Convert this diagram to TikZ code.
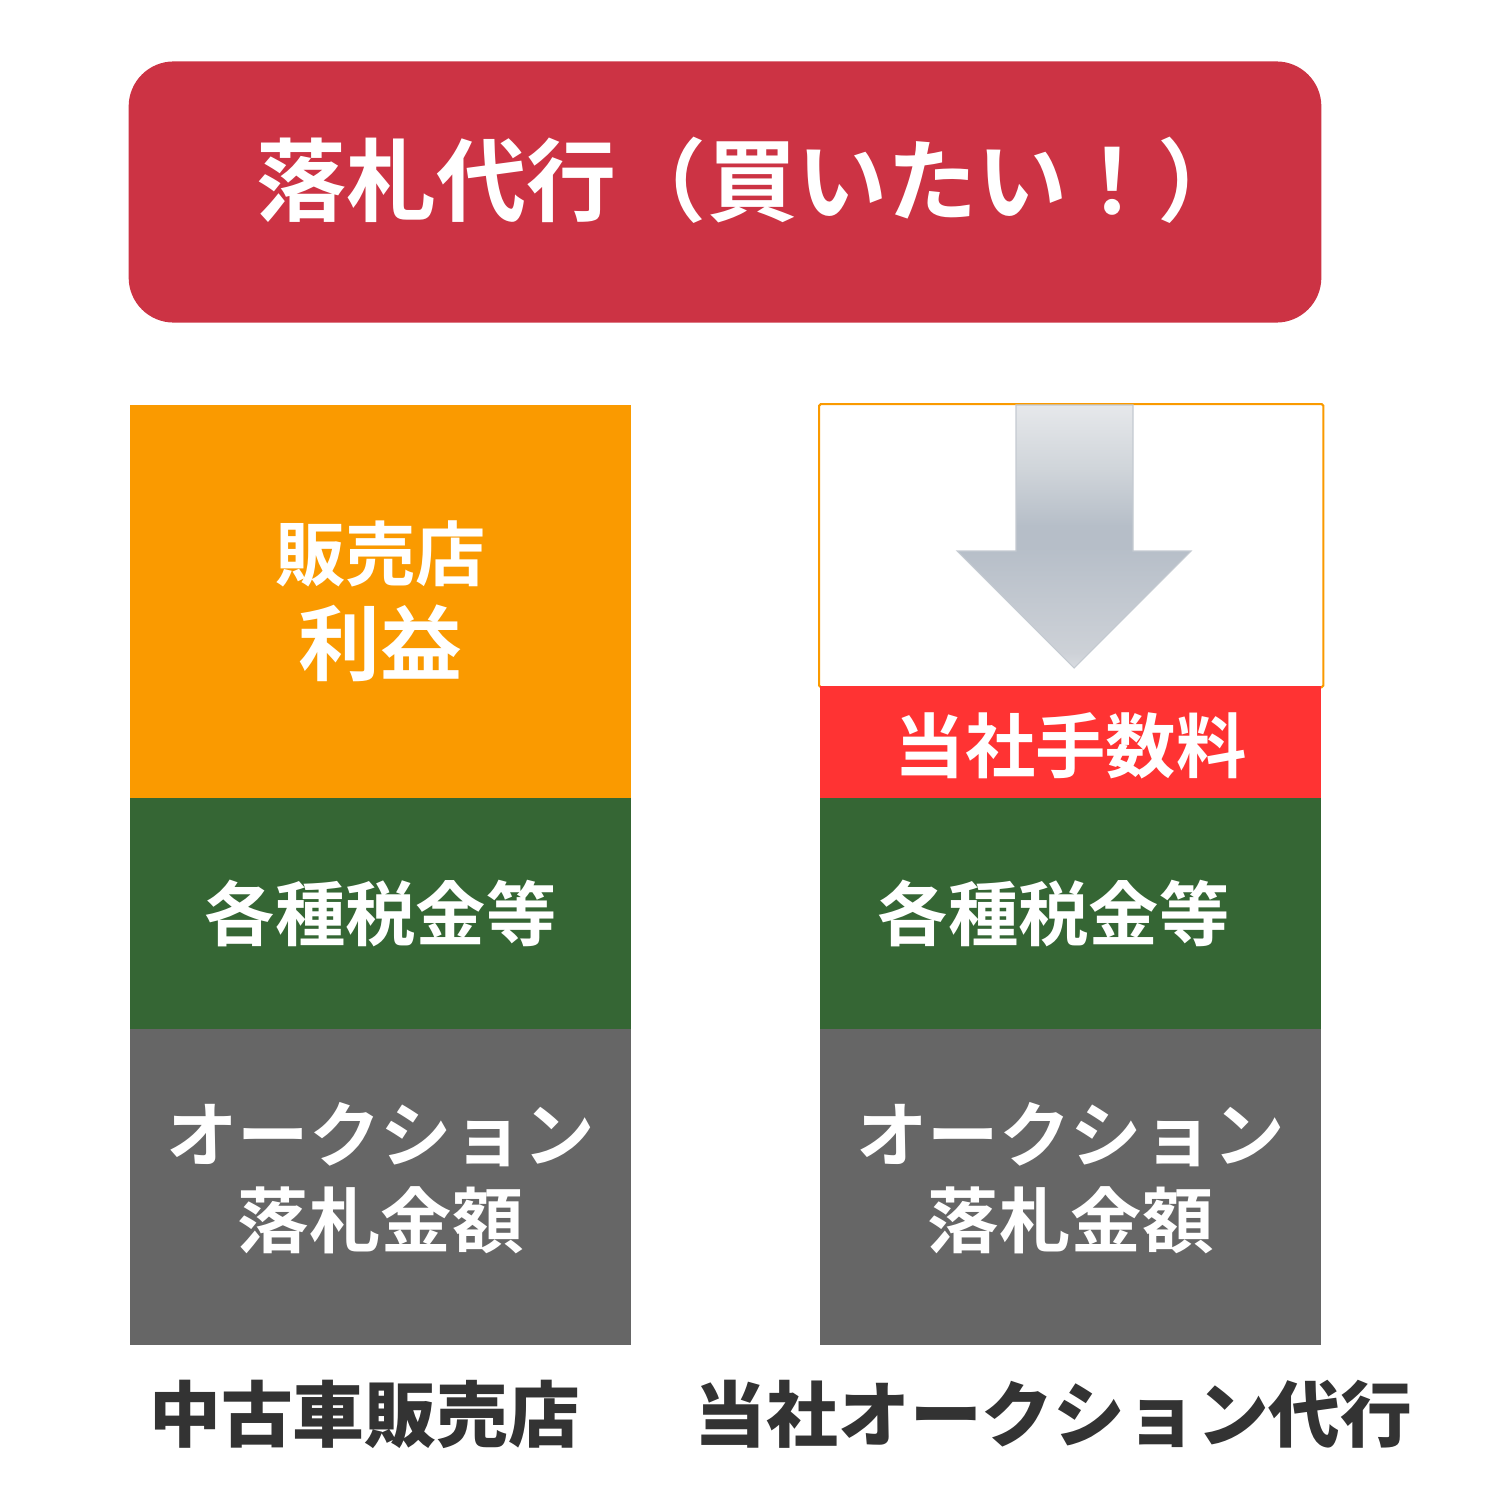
\documentclass[tikz,border=0pt]{standalone}
\usepackage{fontspec}
\setmainfont{Noto Sans CJK JP}[BoldFont={Noto Sans CJK JP Bold}]
\newfontfamily\heavyfont{Noto Sans CJK JP Black}
\usepackage{tikz}
\usetikzlibrary{positioning}
\definecolor{headred}{HTML}{CC3344}
\definecolor{profit}{HTML}{FA9A00}
\definecolor{taxgreen}{HTML}{356634}
\definecolor{bidgray}{HTML}{666666}
\definecolor{feered}{HTML}{FF3333}
\definecolor{captext}{HTML}{333333}
\definecolor{arrowA}{HTML}{E6E8EB}
\definecolor{arrowB}{HTML}{D0D5DA}
\definecolor{arrowC}{HTML}{B6BEC8}
\definecolor{arrowD}{HTML}{C2C8D0}
\definecolor{arrowE}{HTML}{CDD1D7}
\definecolor{arrowF}{HTML}{D8DBE0}
\definecolor{arrowline}{HTML}{C4CAD1}
\pgfdeclareverticalshading{arrowshade}{100bp}{color(0bp)=(arrowF); color(25bp)=(arrowF); color(28bp)=(arrowE); color(38bp)=(arrowD); color(48bp)=(arrowC); color(52bp)=(arrowC); color(63bp)=(arrowB); color(75bp)=(arrowA); color(100bp)=(arrowA)}

\begin{document}
\begin{tikzpicture}[x=0.01cm, y=-0.01cm, node distance=0pt]

\tikzstyle{ColBlok} = [rectangle, inner sep=0pt, minimum width=5cm, fill=#1, draw=#1, line width=0.3pt, text=white, align=center, font=\bfseries\fontsize{20}{24.5}\selectfont]
\tikzstyle{ColCaption} = [inner sep=0pt, text=captext, font=\heavyfont\fontsize{20.4}{24}\selectfont]

\useasboundingbox (0,0) rectangle (1500,1500);

% Place nodes
\node [rectangle, rounded corners=0.45cm, fill=headred, minimum width=11.92cm, minimum height=2.61cm] (header) at (725,192) {};
\node [text=white, font=\bfseries\fontsize{25.6}{28}\selectfont] (header_text) at ([xshift=0.27cm, yshift=0.12cm]header.center) {落札代行（買いたい！）};

\node [ColBlok=profit, minimum height=3.92cm, anchor=north west, font=\bfseries\fontsize{20}{26.7}\selectfont] (left1) at (130,405) {販売店\\{\fontsize{23.3}{26.7}\selectfont 利益}};
\node [ColBlok=taxgreen, minimum height=2.3cm, below=of left1] (left2) {各種税金等};
\node [ColBlok=bidgray, minimum height=3.14cm, below=of left2, text depth=0.245cm, font=\bfseries\fontsize{20.3}{24.5}\selectfont] (left3) {オークション\\落札金額};

\node [rectangle, draw=profit, line width=0.6pt, rounded corners=0.5pt, minimum width=5.04cm, minimum height=2.83cm, anchor=north west] (right0) at (818,403) {};
\node [ColBlok=feered, minimum height=1.11cm, anchor=north west, text depth=0pt] (right1) at (820,686) {当社手数料};
\node [ColBlok=taxgreen, minimum height=2.3cm, below=of right1] (right2) {各種税金等\hspace*{0.34cm}};
\node [ColBlok=bidgray, minimum height=3.14cm, below=of right2, text depth=0.245cm, font=\bfseries\fontsize{20.3}{24.5}\selectfont] (right3) {オークション\\落札金額};

% arrow in the empty box
\shade [shading=arrowshade, draw=arrowline, line width=0.3pt] (1016,405) -- (1133,405) -- (1133,551) -- (1191,551) -- (1074,668) -- (957,551) -- (1016,551) -- cycle;

\node [ColCaption] (caption_left) at ([xshift=-0.16cm, yshift=-0.70cm]left3.south) {中古車販売店};
\node [ColCaption] (caption_right) at ([xshift=-0.17cm, yshift=-0.70cm]right3.south) {当社オークション代行};

\end{tikzpicture}
\end{document}
